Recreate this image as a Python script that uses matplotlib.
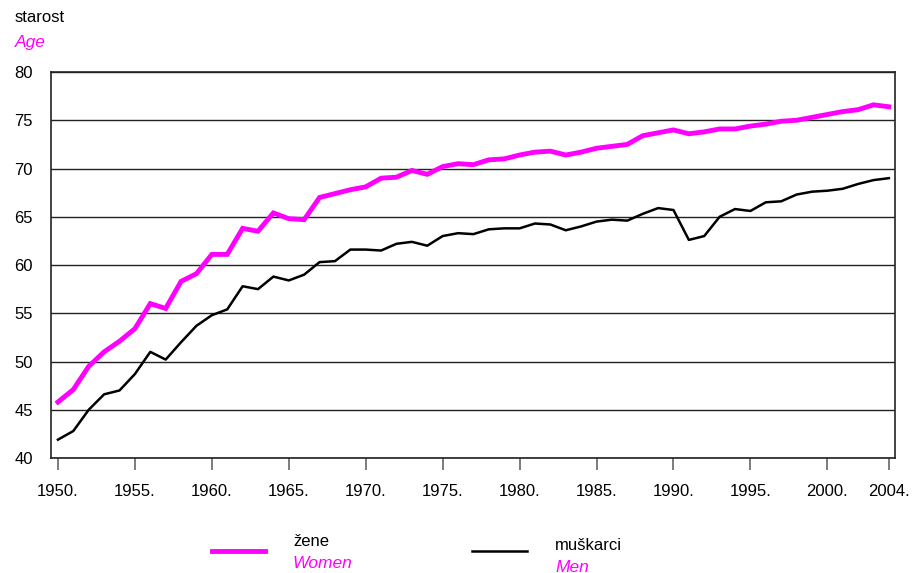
import matplotlib.pyplot as plt
import numpy as np

plt.rcParams['font.family'] = ['Liberation Sans', 'DejaVu Sans']

years = list(range(1950, 2005))

women = [45.8, 47.1, 49.5, 51.0, 52.1, 53.4, 56.0, 55.5, 58.3, 59.1,
         61.1, 61.1, 63.8, 63.5, 65.4, 64.8, 64.7, 67.0, 67.4, 67.8,
         68.1, 69.0, 69.1, 69.8, 69.4, 70.2, 70.5, 70.4, 70.9, 71.0,
         71.4, 71.7, 71.8, 71.4, 71.7, 72.1, 72.3, 72.5, 73.4, 73.7,
         74.0, 73.6, 73.8, 74.1, 74.1, 74.4, 74.6, 74.9, 75.0, 75.3,
         75.6, 75.9, 76.1, 76.6, 76.4]

men = [41.9, 42.8, 45.0, 46.6, 47.0, 48.7, 51.0, 50.2, 52.0, 53.7,
       54.8, 55.4, 57.8, 57.5, 58.8, 58.4, 59.0, 60.3, 60.4, 61.6,
       61.6, 61.5, 62.2, 62.4, 62.0, 63.0, 63.3, 63.2, 63.7, 63.8,
       63.8, 64.3, 64.2, 63.6, 64.0, 64.5, 64.7, 64.6, 65.3, 65.9,
       65.7, 62.6, 63.0, 65.0, 65.8, 65.6, 66.5, 66.6, 67.3, 67.6,
       67.7, 67.9, 68.4, 68.8, 69.0]

x_ticks = list(range(1950, 2005, 5)) + [2004]
x_labels = [f"{y}." for y in x_ticks]
y_ticks = list(range(40, 85, 5))

MAGENTA = "#ff00ff"

fig = plt.figure(figsize=(9.18, 5.73), dpi=100)
ax = fig.add_axes([0.0556, 0.2007, 0.9194, 0.6736])

for yv in y_ticks:
    ax.axhline(yv, color="#222222", lw=1.0, zorder=1)

ax.plot(years, women, color=MAGENTA, lw=3.5, zorder=3, solid_joinstyle="miter")
ax.plot(years, men, color="black", lw=1.8, zorder=3)

ax.set_xlim(1949.55, 2004.4)
ax.set_ylim(40, 80)
ax.set_xticks(x_ticks)
ax.set_xticklabels(x_labels, fontsize=12)
ax.set_yticks(y_ticks)
ax.set_yticklabels([str(v) for v in y_ticks], fontsize=12)
ax.tick_params(axis="x", length=8.6, width=1.2, color="#666666", pad=10)
ax.tick_params(axis="y", length=0, pad=13)
for s in ax.spines.values():
    s.set_linewidth(1.2)
    s.set_color("#222222")

fig.text(15 / 918, 1 - 17 / 573, "starost", fontsize=12, va="center", ha="left")
fig.text(15 / 918, 1 - 42 / 573, "Age", fontsize=12.5, color=MAGENTA,
         style="italic", va="center", ha="left")

# legend
fig.add_artist(plt.Line2D([212 / 918, 265 / 918], [1 - 551 / 573] * 2,
                          color=MAGENTA, lw=3.5, transform=fig.transFigure))
fig.text(293 / 918, 1 - 542 / 573, "žene", fontsize=12, va="center", ha="left")
fig.text(293 / 918, 1 - 564 / 573, "Women", fontsize=12.5, color=MAGENTA,
         style="italic", va="center", ha="left")
fig.add_artist(plt.Line2D([472 / 918, 527 / 918], [1 - 551 / 573] * 2,
                          color="black", lw=1.8, transform=fig.transFigure))
fig.text(555 / 918, 1 - 545 / 573, "muškarci", fontsize=12, va="center", ha="left")
fig.text(555 / 918, 1 - 567 / 573, "Men", fontsize=12.5, color=MAGENTA,
         style="italic", va="center", ha="left")

fig.savefig("out.png", dpi=100)
